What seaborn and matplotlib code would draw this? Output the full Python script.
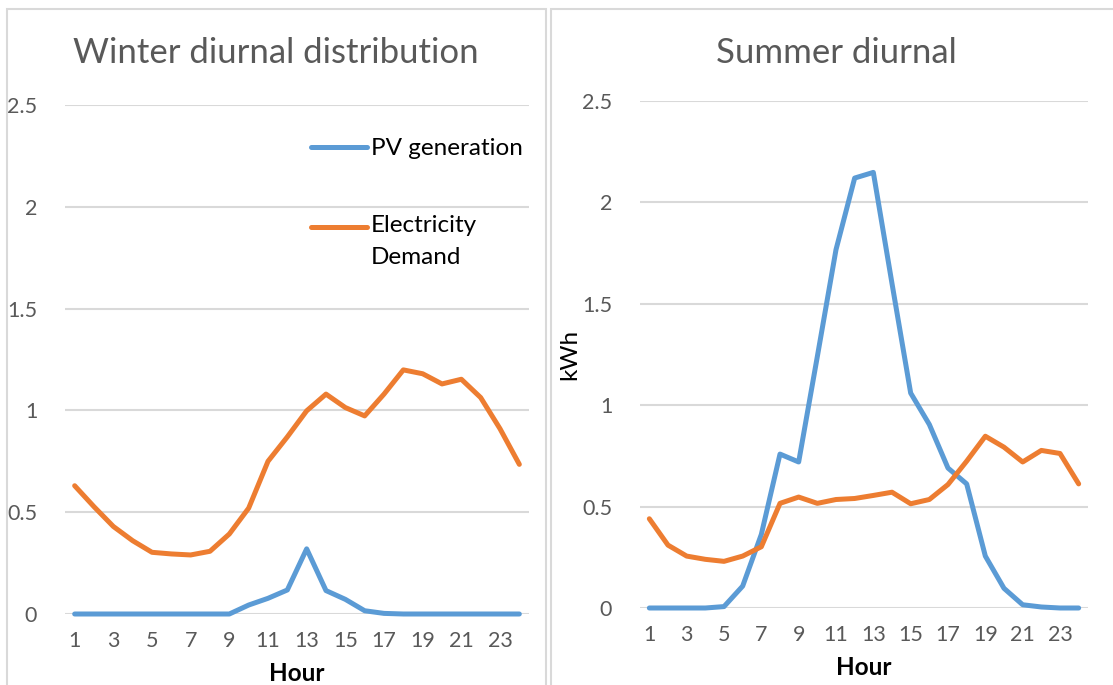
import numpy as np
import pandas as pd
import matplotlib.pyplot as plt
from matplotlib.patches import Rectangle
import seaborn as sns

# data (kWh per hour)
hours = list(range(1, 25))
winter_pv = [0, 0, 0, 0, 0, 0, 0, 0, 0, 0.044, 0.077, 0.118, 0.32, 0.115,
             0.072, 0.016, 0.003, 0, 0, 0, 0, 0, 0, 0]
winter_demand = [0.63, 0.527, 0.43, 0.36, 0.303, 0.295, 0.29, 0.308, 0.393,
                 0.52, 0.75, 0.87, 0.998, 1.08, 1.014, 0.973, 1.08, 1.199,
                 1.18, 1.13, 1.153, 1.063, 0.91, 0.735]
summer_pv = [0, 0, 0, 0, 0.007, 0.108, 0.363, 0.759, 0.72, 1.24, 1.767, 2.12,
             2.148, 1.6, 1.06, 0.905, 0.69, 0.612, 0.256, 0.097, 0.016,
             0.005, 0, 0]
summer_demand = [0.44, 0.31, 0.256, 0.24, 0.23, 0.256, 0.302, 0.516, 0.547,
                 0.516, 0.535, 0.54, 0.555, 0.571, 0.514, 0.535, 0.609, 0.724,
                 0.847, 0.793, 0.72, 0.777, 0.762, 0.612]
series_names = ['PV generation', 'Electricity\nDemand']
odd_hours = list(range(1, 25, 2))
y_ticks = [0, 0.5, 1, 1.5, 2, 2.5]

sns.set_theme(style='white')
plt.rcParams['font.family'] = ['Lato', 'DejaVu Sans']

colors = {series_names[0]: '#5B9BD5', series_names[1]: '#ED7D31'}
grey_txt = '#595959'
grid_col = '#D9D9D9'
lw = 3.6

W, H = 1113, 685
fig = plt.figure(figsize=(W / 100, H / 100), dpi=100)


def px_axes(x0, x1, y_top, y_bot):
    return fig.add_axes([x0 / W, 1 - y_bot / H, (x1 - x0) / W, (y_bot - y_top) / H])


def long_df(pv, demand):
    return pd.DataFrame({
        'Hour': hours * 2,
        'kWh': pv + demand,
        'series': [series_names[0]] * 24 + [series_names[1]] * 24,
    })


def style_axes(ax):
    ax.set_xlim(0.5, 24.5)
    ax.set_ylim(0, 2.5)
    ax.set_xticks(odd_hours)
    ax.set_xticklabels([str(h) for h in odd_hours])
    ax.set_yticks(y_ticks)
    ax.set_yticklabels(['0', '0.5', '1', '1.5', '2', '2.5'])
    ax.tick_params(axis='both', length=0, labelsize=15.5, labelcolor=grey_txt)
    ax.tick_params(axis='y', pad=20)
    ax.tick_params(axis='x', pad=12)
    ax.grid(axis='y', color=grid_col, linewidth=1.5)
    ax.grid(axis='x', visible=False)
    ax.set_axisbelow(True)
    for s in ax.spines.values():
        s.set_visible(False)
    ax.set_xlabel('Hour', fontsize=17.5, fontweight='bold', color='black', labelpad=8)
    for ln in ax.get_lines():
        ln.set_linewidth(lw)
        ln.set_solid_capstyle('round')
        ln.set_solid_joinstyle('round')
        ln.set_clip_on(False)  # zero line would be cut in half otherwise


# panel frames
fig.patches.append(Rectangle((7 / W, -0.05), (546 - 7) / W, 1.05 - 9 / H,
                             transform=fig.transFigure, fill=False,
                             edgecolor=grid_col, linewidth=1.5))
fig.patches.append(Rectangle((551 / W, -0.05), (1130 - 551) / W, 1.05 - 9 / H,
                             transform=fig.transFigure, fill=False,
                             edgecolor=grid_col, linewidth=1.5))

# winter
ax1 = px_axes(65, 529, 105, 614)
sns.lineplot(data=long_df(winter_pv, winter_demand), x='Hour', y='kWh',
             hue='series', palette=colors, legend=False, ax=ax1)
style_axes(ax1)
ax1.set_ylabel('')

# summer
ax2 = px_axes(640, 1088, 101, 608)
sns.lineplot(data=long_df(summer_pv, summer_demand), x='Hour', y='kWh',
             hue='series', palette=colors, legend=False, ax=ax2)
style_axes(ax2)
ax2.set_ylabel('kWh', fontsize=17.5, color='black', labelpad=1)

fig.text(276 / W, 1 - 53 / H, 'Winter diurnal distribution', ha='center',
         va='center', fontsize=25, color=grey_txt)
fig.text(836 / W, 1 - 53 / H, 'Summer diurnal', ha='center',
         va='center', fontsize=25, color=grey_txt)

# legend in the winter panel
leg = ax1.legend(ax1.get_lines()[:2], series_names, loc='upper left',
                 bbox_to_anchor=(311 / W, 1 - 138 / H),
                 bbox_transform=fig.transFigure, frameon=False, fontsize=17.5,
                 handlelength=2.3, handletextpad=0.15, labelspacing=2.32,
                 borderpad=0, borderaxespad=0)
for t in leg.get_texts():
    t.set_color('black')
    t.set_linespacing(1.6)
for hl in leg.get_lines():
    hl.set_linewidth(lw)
    hl.set_solid_capstyle('round')
# Excel puts the handle at the first line of a wrapped label
hl2 = leg.get_lines()[1]
hl2.set_ydata(np.asarray(hl2.get_ydata()) + 10.5)

fig.savefig('out.png', dpi=100)
